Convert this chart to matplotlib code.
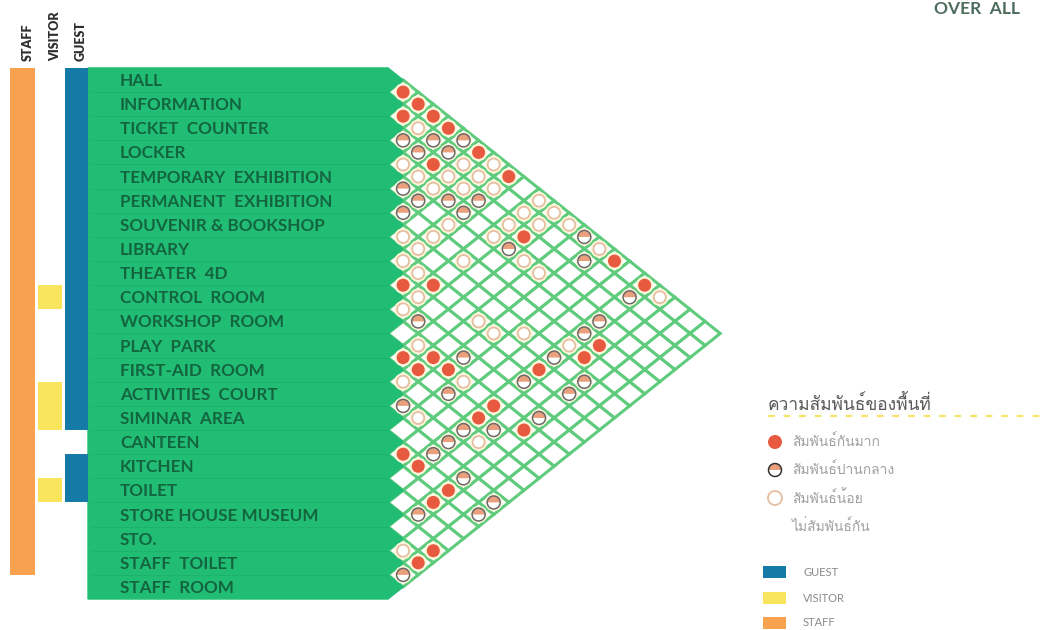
import matplotlib
matplotlib.use('Agg')
import matplotlib.pyplot as plt
from matplotlib import font_manager
from matplotlib.patches import Polygon, Circle, Wedge, Rectangle

# room list (top to bottom)
rooms = ['HALL', 'INFORMATION', 'TICKET  COUNTER', 'LOCKER', 'TEMPORARY  EXHIBITION',
         'PERMANENT  EXHIBITION', 'SOUVENIR & BOOKSHOP', 'LIBRARY', 'THEATER  4D',
         'CONTROL  ROOM', 'WORKSHOP  ROOM', 'PLAY  PARK', 'FIRST-AID  ROOM',
         'ACTIVITIES  COURT', 'SIMINAR  AREA', 'CANTEEN', 'KITCHEN', 'TOILET',
         'STORE HOUSE MUSEUM', 'STO.', 'STAFF  TOILET', 'STAFF  ROOM']

# relationship pairs (row index, row index)
strong_pairs = [(0, 1), (0, 2), (1, 2), (0, 3), (0, 4), (2, 5), (0, 6), (0, 8), (2, 11),
                (8, 9), (7, 10), (11, 12), (10, 13), (11, 13), (10, 14), (7, 17), (10, 17),
                (11, 17), (10, 19), (15, 16), (15, 17), (15, 19), (16, 19), (18, 21),
                (19, 21), (0, 15), (0, 17), (4, 18), (5, 18)]
medium_pairs = [(2, 3), (1, 4), (0, 5), (2, 4), (1, 5), (4, 5), (4, 6), (3, 7), (2, 8),
                (5, 6), (3, 8), (3, 11), (9, 11), (9, 14), (8, 17), (11, 15), (13, 14),
                (9, 19), (12, 17), (11, 18), (13, 17), (14, 17), (14, 19), (14, 21),
                (17, 19), (15, 21), (20, 21), (0, 13), (1, 14), (1, 17), (3, 17), (4, 17),
                (6, 17), (6, 19), (7, 19)]
weak_pairs = [(1, 3), (3, 4), (1, 6), (0, 7), (3, 5), (2, 6), (1, 7), (3, 6), (2, 7), (1, 8),
              (0, 10), (1, 10), (0, 11), (4, 8), (2, 10), (1, 11), (6, 7), (5, 8), (3, 10),
              (6, 8), (7, 8), (5, 10), (3, 12), (7, 9), (3, 13), (8, 10), (9, 10), (7, 13),
              (7, 14), (6, 15), (10, 12), (12, 13), (10, 15), (13, 15), (12, 18), (19, 20),
              (0, 12), (0, 14), (0, 18), (5, 17)]

# user groups: (first row, last row)
staff_rows = [(0, 20)]
visitor_rows = [(9, 9), (13, 14), (17, 17)]
guest_rows = [(0, 14), (16, 17)]

legend_title = 'ความสัมพันธ์ของพื้นที่'
legend_levels = ['สัมพันธ์กันมาก', 'สัมพันธ์ปานกลาง', 'สัมพันธ์น้อย', 'ไม่สัมพันธ์กัน']
group_names = ['GUEST', 'VISITOR', 'STAFF']


def find_thai_font():
    try:
        from fontTools.ttLib import TTFont
    except ImportError:
        return 'DejaVu Sans'
    for f in font_manager.fontManager.ttflist:
        try:
            tt = TTFont(f.fname, fontNumber=0, lazy=True)
            cmap = tt.getBestCmap()
            if cmap and 0x0E2A in cmap and 0x0E01 in cmap:
                return f.name
        except Exception:
            pass
    return 'DejaVu Sans'


thai_font = find_thai_font()

# colours
RED = '#e85a40'
SALMON = '#eaa07c'
GREEN = '#22bd75'
GRID = '#5fcb7c'
LABEL = '#13653f'
BLUE = '#157aa6'
YELLOW = '#f9e45e'
ORANGE = '#f8a24f'

# layout (pixels)
Y0 = 80
H = 24.14
X0 = 388
DX = 15.1
R = 6.5


def row_y(i):
    return Y0 + i * H


def cell_xy(i, j):
    return X0 + (j - i) * DX, Y0 + (i + j) * H / 2


fig = plt.figure(figsize=(10.45, 6.3), dpi=100)
ax = fig.add_axes([0, 0, 1, 1])
ax.set_xlim(0, 1045)
ax.set_ylim(630, 0)
ax.axis('off')

n = len(rooms)

# diamond grid
for i in range(n):
    for j in range(i + 1, n):
        cx, cy = cell_xy(i, j)
        pts = [(cx - DX, cy), (cx, cy - H / 2), (cx + DX, cy), (cx, cy + H / 2)]
        ax.add_patch(Polygon(pts, closed=True, facecolor='white', edgecolor=GRID,
                             lw=2.2, zorder=1, joinstyle='miter'))

# green label band with arrow tips
top = row_y(0) - H / 2
bottom = row_y(n - 1) + H / 2
band = [(88, top), (X0, top)]
for i in range(n):
    band.append((X0 + DX, row_y(i)))
    band.append((X0, row_y(i) + H / 2))
band.append((88, bottom))
ax.add_patch(Polygon(band, closed=True, facecolor=GREEN, edgecolor=GREEN, lw=1, zorder=2))
for i in range(1, n):
    ax.plot([92, X0], [row_y(i) - H / 2] * 2, color='#1db36c', lw=0.7, zorder=2.5)

for i, name in enumerate(rooms):
    ax.text(120, row_y(i) + 1, name, ha='left', va='center', fontsize=12.3,
            fontweight='bold', color=LABEL, family='Lato', zorder=3)

# user group bars
for spans, x, w, c in [(staff_rows, 10, 25, ORANGE), (visitor_rows, 38, 24, YELLOW),
                       (guest_rows, 65, 23, BLUE)]:
    for a, b in spans:
        y1 = row_y(a) - H / 2
        y2 = row_y(b) + H / 2
        ax.add_patch(Rectangle((x, y1), w, y2 - y1, facecolor=c, edgecolor='none', zorder=2))

for name, x in [('STAFF', 28), ('VISITOR', 55), ('GUEST', 81)]:
    ax.text(x, 61, name, rotation=90, ha='center', va='bottom', fontsize=9,
            fontweight='heavy', color='#2e2e2e', family='Lato')


# relationship markers
def halo(ax, x, y):
    ax.add_patch(Circle((x, y), R + 2.2, facecolor='#fdf7dc', edgecolor='none', zorder=3))


def strong(ax, x, y, r=R, z=4):
    ax.add_patch(Circle((x, y), r, facecolor=RED, edgecolor='none', zorder=z))


def medium(ax, x, y, r=R, z=4, edge='#6a6a6a'):
    ax.add_patch(Circle((x, y), r, facecolor='white', edgecolor='none', zorder=z))
    ax.add_patch(Wedge((x, y), r, 180, 360, facecolor=SALMON, edgecolor='none', zorder=z))
    ax.add_patch(Circle((x, y), r, facecolor='none', edgecolor=edge, lw=1.1, zorder=z + 0.1))


def weak(ax, x, y, r=R, z=4):
    ax.add_patch(Circle((x, y), r - 0.5, facecolor='white', edgecolor='#e4bfa2', lw=1.3, zorder=z))


for pairs, fn in [(strong_pairs, strong), (medium_pairs, medium), (weak_pairs, weak)]:
    for i, j in pairs:
        x, y = cell_xy(i, j)
        halo(ax, x, y)
        fn(ax, x, y)

# title
ax.text(977, 9, 'OVER  ALL', ha='center', va='center', fontsize=12.5,
        fontweight='bold', color='#4d6b5c', family='Lato')

# legend
ax.text(768, 404, legend_title, ha='left', va='center', fontsize=12.5,
        color='#5a5a5a', family=[thai_font, 'DejaVu Sans'])
ax.plot([768, 1045], [416, 416], color='#f5e36a', lw=1.6, ls=(0, (3, 4)))
ly = [442, 470, 498, 527]
strong(ax, 775, ly[0], r=7)
medium(ax, 775, ly[1], r=6.5, edge='#333333')
weak(ax, 775, ly[2], r=7.5)
for y, t in zip(ly, legend_levels):
    ax.text(792, y, t, ha='left', va='center', fontsize=10, color='#a0a0a0',
            family=[thai_font, 'DejaVu Sans'])

gy = [572, 598, 623]
for y, name, c in zip(gy, group_names, [BLUE, YELLOW, ORANGE]):
    ax.add_patch(Rectangle((763, y - 6), 23, 12, facecolor=c, edgecolor='none'))
    ax.text(803, y, name, ha='left', va='center', fontsize=8, color='#8a8a8a', family='Lato')

fig.savefig('out.png', dpi=100)
